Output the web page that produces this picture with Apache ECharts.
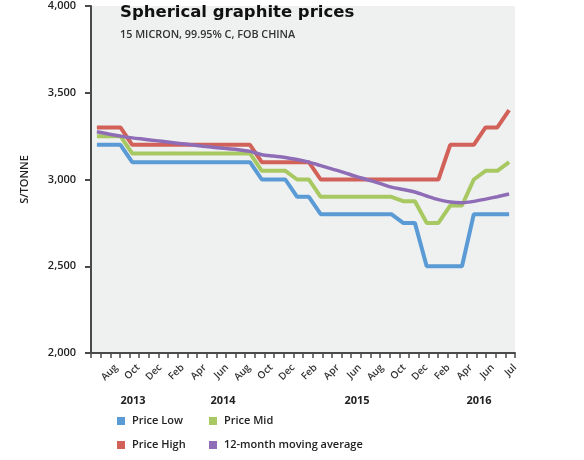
<!DOCTYPE html>
<html><head><meta charset="utf-8">
<script src="https://cdn.jsdelivr.net/npm/echarts@6/dist/echarts.min.js"></script>
<style>html,body{margin:0;padding:0;background:#fff}#c{width:584px;height:460px}</style>
</head><body><div id="c"></div>
<script>
const months = ['Aug 2013','Sep 2013','Oct 2013','Nov 2013','Dec 2013',
  'Jan 2014','Feb 2014','Mar 2014','Apr 2014','May 2014','Jun 2014','Jul 2014','Aug 2014','Sep 2014','Oct 2014','Nov 2014','Dec 2014',
  'Jan 2015','Feb 2015','Mar 2015','Apr 2015','May 2015','Jun 2015','Jul 2015','Aug 2015','Sep 2015','Oct 2015','Nov 2015','Dec 2015',
  'Jan 2016','Feb 2016','Mar 2016','Apr 2016','May 2016','Jun 2016','Jul 2016'];
const priceLow  = [3200,3200,3200,3100,3100,3100,3100,3100,3100,3100,3100,3100,3100,3100,3000,3000,3000,2900,2900,2800,2800,2800,2800,2800,2800,2800,2750,2750,2500,2500,2500,2500,2800,2800,2800,2800];
const priceHigh = [3300,3300,3300,3200,3200,3200,3200,3200,3200,3200,3200,3200,3200,3200,3100,3100,3100,3100,3100,3000,3000,3000,3000,3000,3000,3000,3000,3000,3000,3000,3200,3200,3200,3300,3300,3400];
const priceMid  = [3250,3250,3250,3150,3150,3150,3150,3150,3150,3150,3150,3150,3150,3150,3050,3050,3050,3000,3000,2900,2900,2900,2900,2900,2900,2900,2875,2875,2750,2750,2850,2850,3000,3050,3050,3100];
const movingAvg = [3275,3262,3250,3240,3232,3224,3216,3208,3200,3192,3185,3178,3172,3162,3143,3135,3127,3115,3100,3080,3060,3040,3018,2998,2978,2956,2942,2928,2905,2884,2870,2866,2874,2887,2901,2916];
const tickLabels = ['Aug','Oct','Dec','Feb','Apr','Jun','Aug','Oct','Dec','Feb','Apr','Jun','Aug','Oct','Dec','Feb','Apr','Jun','Jul'];
const yearLabels = ['2013','2014','2015','2016'];
const seriesNames = ['Price Low','Price High','Price Mid','12-month moving average'];
const tickCount = 44;

const colors = {low:'#5b9bd5', high:'#d2615a', mid:'#a8c862', avg:'#8e6cb6'};
const FONT = 'Open Sans';
const yearX = [133, 223, 357, 479];

const chart = echarts.init(document.getElementById('c'), null, {renderer:'canvas'});
const lineSeries = (name, data, color, width, smooth) => ({
  name, type:'line', data, xAxisIndex:0, yAxisIndex:0, symbol:'none', smooth,
  lineStyle:{width, color}, itemStyle:{color}, emphasis:{disabled:true}
});
const legendBase = {
  orient:'vertical', icon:'rect', itemWidth:8, itemHeight:8, itemGap:10, padding:0,
  selectedMode:false,
  textStyle:{fontFamily:FONT, fontSize:11, fontWeight:600, color:'#222', lineHeight:14, padding:[0,0,0,2]}
};
chart.setOption({
  animation:false,
  textStyle:{fontFamily:FONT},
  title:{
    text:'Spherical graphite prices', subtext:'15 MICRON, 99.95% C, FOB CHINA',
    left:120, top:4, padding:0, itemGap:8,
    textStyle:{fontFamily:'DejaVu Sans', fontWeight:'bold', fontSize:16.5, color:'#111'},
    subtextStyle:{fontFamily:FONT, fontWeight:600, fontSize:10.8, color:'#333'}
  },
  grid:{left:91, right:69, top:6, bottom:107, show:true, backgroundColor:'#eff1f1', borderWidth:0},
  xAxis:[
    {type:'category', data:months, boundaryGap:true, show:false, position:'top'},
    {type:'value', min:-1.13, max:18, position:'bottom',
      axisLine:{show:false, onZero:false}, axisTick:{show:false}, splitLine:{show:false},
      axisLabel:{customValues:tickLabels.map((_, i) => i), formatter:v => tickLabels[Math.round(v)],
        rotate:45, margin:13, fontSize:10, fontWeight:600, color:'#333', fontFamily:FONT,
        showMinLabel:true, showMaxLabel:true}},
    {type:'category', data:new Array(tickCount).fill(''), boundaryGap:true, position:'bottom',
      axisLine:{show:true, onZero:false, lineStyle:{color:'#4a4a4a', width:2}},
      axisTick:{show:true, interval:0, length:5, lineStyle:{color:'#4a4a4a', width:1.5}},
      axisLabel:{show:false}, splitLine:{show:false}}
  ],
  yAxis:{
    type:'value', min:2000, max:4000, interval:500,
    axisLine:{show:true, onZero:false, lineStyle:{color:'#4a4a4a', width:2}},
    axisTick:{show:true, length:6, lineStyle:{color:'#4a4a4a', width:2}},
    splitLine:{show:false},
    axisLabel:{margin:15, fontSize:11, fontWeight:600, color:'#222', fontFamily:FONT,
      formatter:v => v.toLocaleString('en-US')},
    name:'S/TONNE', nameLocation:'middle', nameGap:61,
    nameTextStyle:{fontSize:11, fontWeight:600, color:'#222', fontFamily:FONT}
  },
  legend:[
    Object.assign({}, legendBase, {left:117, top:414, data:[seriesNames[0], seriesNames[1]]}),
    Object.assign({}, legendBase, {left:209, top:414, data:[seriesNames[2], seriesNames[3]]})
  ],
  graphic: yearLabels.map((t, i) => ({
    type:'text', x:yearX[i], y:401,
    style:{text:t, textAlign:'center', textVerticalAlign:'middle',
      font:'700 11px "Open Sans"', fill:'#222'}
  })),
  series:[
    lineSeries(seriesNames[0], priceLow, colors.low, 4, false),
    lineSeries(seriesNames[1], priceHigh, colors.high, 4, false),
    lineSeries(seriesNames[2], priceMid, colors.mid, 4, false),
    lineSeries(seriesNames[3], movingAvg, colors.avg, 3.5, 0.3)
  ]
});
</script></body></html>
